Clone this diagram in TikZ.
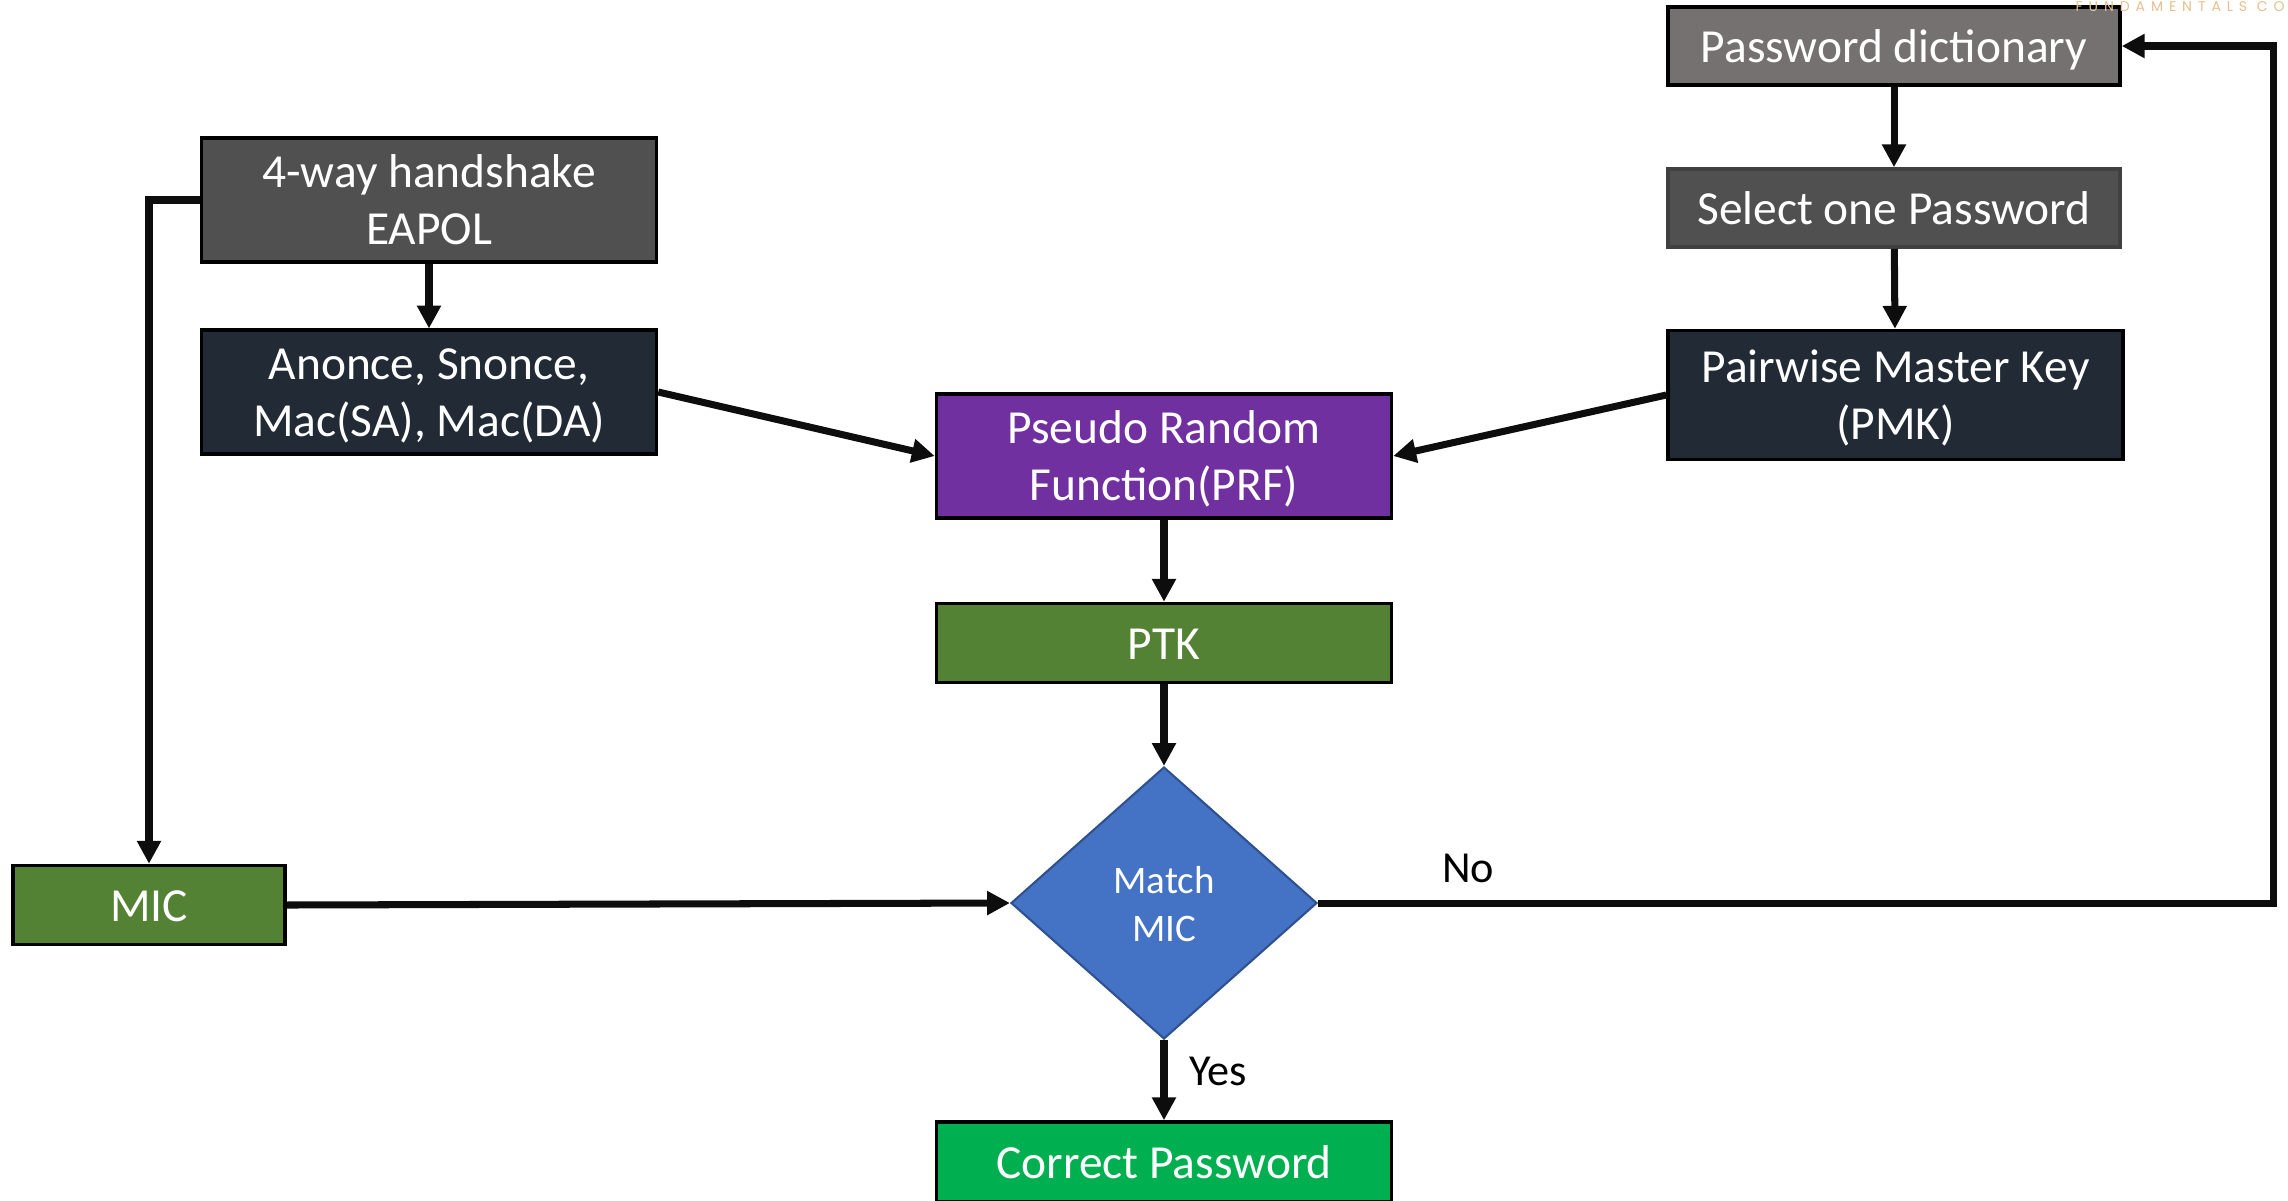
\documentclass[tikz,border=0pt]{standalone}
\usepackage{fontspec}
\setmainfont{Carlito}
\newfontfamily\markfont[LetterSpace=42]{Poppins}
\usetikzlibrary{arrows.meta,shapes.geometric}

\definecolor{dictgray}{HTML}{767171}
\definecolor{stepgray}{HTML}{505050}
\definecolor{navy}{HTML}{222A35}
\definecolor{prfpurple}{HTML}{7030A0}
\definecolor{leafgreen}{HTML}{548235}
\definecolor{okgreen}{HTML}{00B050}
\definecolor{matchblue}{HTML}{4472C4}
\definecolor{matchedge}{HTML}{2F528F}
\definecolor{inkblack}{HTML}{0D0D0D}
\definecolor{markorange}{HTML}{E4C08F}

% two centred lines, set a little low as in the slide
\newcommand{\twolines}[3][14.1pt]{\rule{0pt}{#1}\begin{tabular}[t]{@{}c@{}}#2\\#3\end{tabular}}

\tikzstyle{block}=[
    draw=black,
    line width=1pt,
    text=white,
    align=center,
    inner sep=0pt,
    minimum width=4.55cm,
    font=\fontsize{13.5}{16.2}\selectfont,
  ]
\tikzstyle{oneline}=[
    execute at begin node={\rule{0pt}{12.3pt}},
    execute at end node={\rule[-3pt]{0pt}{0pt}},
  ]
\tikzstyle{flow}=[
    -{Triangle[length=6.5pt,width=6.5pt]},
    line width=2pt,
    draw=inkblack,
  ]
\tikzstyle{answer}=[
    text=black,
    inner sep=0pt,
    font=\fontsize{12.6}{15}\selectfont,
  ]

\begin{document}
\begin{tikzpicture}
      \useasboundingbox (0,0) rectangle (22.88,-12.00);
      % left side
      \node[block, fill=stepgray, minimum height=1.16cm] (handshake) at (4.29,-2.00) {\twolines{4-way handshake}{EAPOL}};
      \node[block, fill=navy, minimum height=1.23cm] (nonces) at (4.29,-3.92) {\twolines{Anonce, Snonce,}{Mac(SA), Mac(DA)}};
      \node[block, oneline, fill=leafgreen, minimum width=2.72cm, minimum height=0.79cm] (mic) at (1.49,-9.05) {MIC};
      % right side
      \node[block, oneline, fill=dictgray, minimum width=4.52cm, minimum height=0.78cm] (dict) at (18.94,-0.46) {Password dictionary};
      \node[block, oneline, fill=stepgray, draw=black!75, minimum width=4.52cm, minimum height=0.78cm] (select) at (18.94,-2.08) {Select one Password};
      \node[block, fill=navy, minimum height=1.29cm] (pmk) at (18.955,-3.95) {\twolines{Pairwise Master Key}{(PMK)}};
      % middle
      \node[block, fill=prfpurple, minimum height=1.24cm] (prf) at (11.64,-4.56) {\twolines{Pseudo Random}{Function(PRF)}};
      \node[block, oneline, fill=leafgreen, minimum height=0.79cm] (ptk) at (11.64,-6.43) {PTK};
      \node[diamond, draw=matchedge, line width=0.6pt, fill=matchblue, text=white,
            align=center, inner sep=0pt, minimum width=3.06cm, minimum height=2.72cm,
            font=\fontsize{11.1}{13.6}\selectfont] (match) at (11.64,-9.03) {\twolines[12.1pt]{Match}{MIC}};
      \node[block, oneline, fill=okgreen, minimum height=0.80cm] (correct) at (11.64,-11.62) {Correct Password};
      \node[answer] (no) at (14.68,-8.68) {No};
      \node[answer] (yes) at (12.18,-10.71) {Yes};
      \coordinate (back) at (22.73,-0.46);
      \node[anchor=west, inner sep=0pt, text=markorange,
            font=\markfont\fontsize{4}{4.5}\selectfont] (mark) at (20.75,-0.07) {FUNDAMENTALS CO};

      \draw[flow] (handshake) to (nonces);
      \draw[flow] (handshake.west) -| (mic.north);
      \draw[flow] (nonces.east) to (prf.west);
      \draw[flow] (dict) to (select);
      \draw[flow] (select) to (pmk);
      \draw[flow] (pmk.west) to (prf.east);
      \draw[flow] (prf) to (ptk);
      \draw[flow] (ptk) to (match);
      \draw[flow] (mic.east) to (match.west);
      \draw[flow] (match) to (correct);
      \draw[flow] (match.east) -| (back) -- (dict.east);
    \end{tikzpicture}
\end{document}
